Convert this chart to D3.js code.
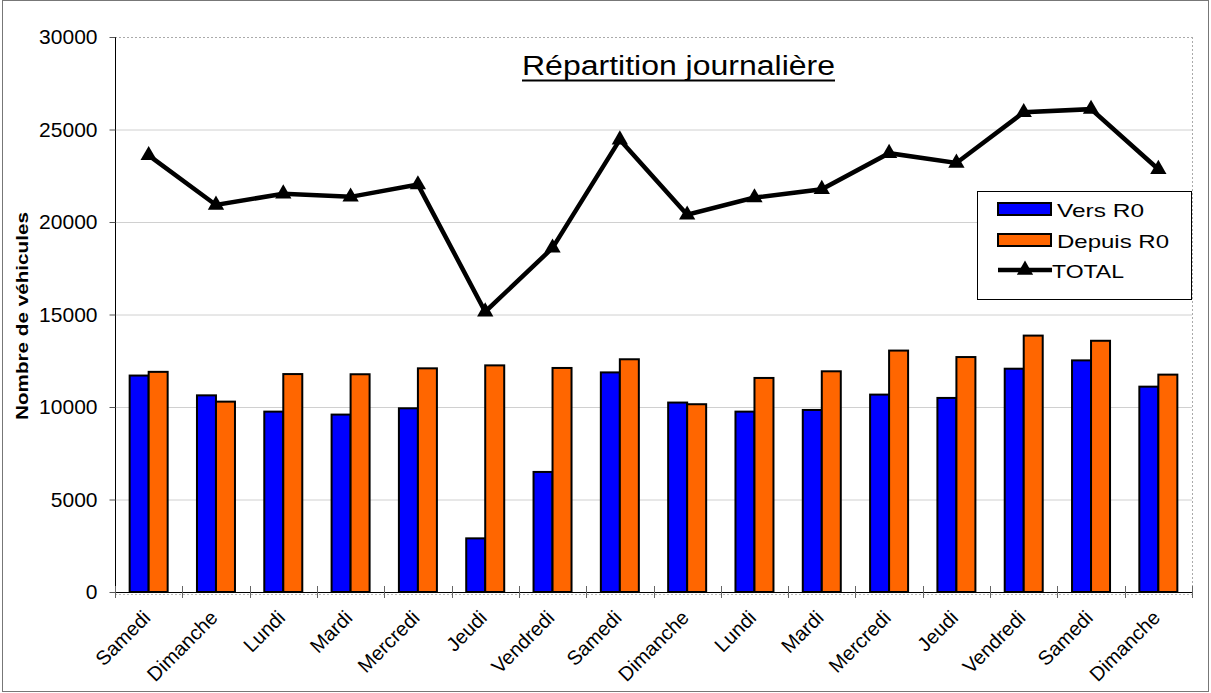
<!DOCTYPE html>
<html><head><meta charset="utf-8">
<script src="https://cdn.jsdelivr.net/npm/d3@7"></script>
<style>body{margin:0;background:#fff}svg{display:block;font-family:"Liberation Sans",Arial,sans-serif}</style>
</head><body><svg id="c" width="1211" height="693"></svg>
<script>
const categories = ["Samedi","Dimanche","Lundi","Mardi","Mercredi","Jeudi","Vendredi","Samedi","Dimanche","Lundi","Mardi","Mercredi","Jeudi","Vendredi","Samedi","Dimanche"];
const versR0 = [11700,10630,9750,9590,9930,2900,6490,11870,10240,9750,9840,10670,10490,12070,12520,11100];
const depuisR0 = [11900,10290,11780,11770,12090,12250,12110,12580,10150,11570,11930,13050,12700,13860,13580,11750];
const total = [23600,20920,21530,21360,22020,15150,18600,24450,20390,21320,21770,23720,23190,25930,26100,22850];
const yTicks = [0,5000,10000,15000,20000,25000,30000];
const seriesNames = ["Vers R0","Depuis R0","TOTAL"];

const svg = d3.select("#c");
const L=115, R=1192, T=37, B=592;
const idx = categories.map((d,i)=>i);
const x = d3.scaleBand().domain(idx).range([L,R]).padding(0);
const y = d3.scaleLinear().domain([0,30000]).range([B,T]);

// outer frame
svg.append("rect").attr("x",2.5).attr("y",0.5).attr("width",1206).attr("height",691).attr("fill","none").attr("stroke","#777").attr("stroke-width",1);

// gridlines
svg.append("g").selectAll("line").data(yTicks.filter(t=>t>0&&t<30000)).join("line")
  .attr("x1",L).attr("x2",R).attr("y1",d=>y(d)+0.5).attr("y2",d=>y(d)+0.5).attr("stroke","#d0d0d0");
// dotted plot frame top/right/bottom
svg.append("line").attr("x1",L).attr("x2",R).attr("y1",T+0.5).attr("y2",T+0.5).attr("stroke","#aaa").attr("stroke-dasharray","2,2");
svg.append("line").attr("x1",R+0.5).attr("x2",R+0.5).attr("y1",T).attr("y2",B).attr("stroke","#aaa").attr("stroke-dasharray","2,2");
svg.append("line").attr("x1",L).attr("x2",R).attr("y1",B+2.5).attr("y2",B+2.5).attr("stroke","#bbb").attr("stroke-dasharray","2,2");

// y axis
const ya = svg.append("g").attr("transform",`translate(${L+0.5},0)`).call(d3.axisLeft(y).tickValues(yTicks).tickSize(6).tickPadding(12).tickFormat(d3.format("d")));
ya.select(".domain").attr("stroke","#000").attr("d",`M0,${T}V${B}`);
ya.selectAll(".tick line").attr("stroke","#555");
ya.selectAll("text").attr("font-size",21).attr("fill","#000").attr("font-family","Liberation Sans, Arial");

// x axis
svg.append("line").attr("x1",L).attr("x2",R).attr("y1",B+0.5).attr("y2",B+0.5).attr("stroke","#000");
const bounds = idx.map(i=>x(i)).concat([R]);
svg.append("g").selectAll("line").data(bounds).join("line")
  .attr("x1",d=>Math.round(d)+0.5).attr("x2",d=>Math.round(d)+0.5).attr("y1",B-6).attr("y2",B+6).attr("stroke","#666");
svg.append("g").selectAll("text").data(idx).join("text")
  .attr("transform",i=>`translate(${x(i)+x.bandwidth()/2+3},${B+27}) rotate(-45)`)
  .attr("text-anchor","end").attr("font-size",20).attr("fill","#000").text(i=>categories[i]);

// bars
const bw = 19;
const bars = svg.append("g");
bars.selectAll(".b").data(idx).join("rect")
  .attr("x",i=>x(i)+x.bandwidth()/2-bw).attr("width",bw)
  .attr("y",i=>y(versR0[i])).attr("height",i=>B-y(versR0[i]))
  .attr("fill","#0000ff").attr("stroke","#000").attr("stroke-width",2);
bars.selectAll(".o").data(idx).join("rect")
  .attr("x",i=>x(i)+x.bandwidth()/2).attr("width",bw)
  .attr("y",i=>y(depuisR0[i])).attr("height",i=>B-y(depuisR0[i]))
  .attr("fill","#ff6600").attr("stroke","#000").attr("stroke-width",2);

// total line
const line = d3.line().x(i=>x(i)+x.bandwidth()/2).y(i=>y(total[i]));
svg.append("path").datum(idx).attr("d",line).attr("fill","none").attr("stroke","#000").attr("stroke-width",4.5).attr("stroke-linejoin","miter");
const tri = d3.symbol().type(d3.symbolTriangle).size(115);
svg.append("g").selectAll("path").data(idx).join("path")
  .attr("transform",i=>`translate(${x(i)+x.bandwidth()/2},${y(total[i])})`).attr("d",tri).attr("fill","#000");

// title
svg.append("text").attr("x",522).attr("y",75).attr("font-size",27).attr("fill","#000")
  .attr("textLength",313).attr("lengthAdjust","spacingAndGlyphs").text("Répartition journalière");
svg.append("line").attr("x1",522).attr("x2",835).attr("y1",80.5).attr("y2",80.5).attr("stroke","#000").attr("stroke-width",2);

// y label
svg.append("text").attr("transform","translate(28,316) rotate(-90)").attr("text-anchor","middle").attr("font-size",17).attr("font-weight","bold")
  .attr("textLength",208).attr("lengthAdjust","spacingAndGlyphs").text("Nombre de véhicules");

// legend
const lg = svg.append("g");
lg.append("rect").attr("x",977.5).attr("y",191.5).attr("width",214).attr("height",108).attr("fill","#fff").attr("stroke","#000");
const ly = [209,240,270];
lg.append("rect").attr("x",998).attr("y",ly[0]-6).attr("width",53).attr("height",12).attr("fill","#0000ff").attr("stroke","#000").attr("stroke-width",2);
lg.append("rect").attr("x",998).attr("y",ly[1]-6).attr("width",53).attr("height",12).attr("fill","#ff6600").attr("stroke","#000").attr("stroke-width",2);
lg.append("line").attr("x1",998).attr("x2",1052).attr("y1",ly[2]).attr("y2",ly[2]).attr("stroke","#000").attr("stroke-width",4.5);
lg.append("path").attr("transform",`translate(1025,${ly[2]})`).attr("d",tri).attr("fill","#000");
const legW = [87,112,72], legX = [1057,1057,1052];
lg.selectAll("text").data(seriesNames).join("text").attr("x",(d,i)=>legX[i]).attr("y",(d,i)=>ly[i]+7.5).attr("font-size",19)
  .attr("textLength",(d,i)=>legW[i]).attr("lengthAdjust","spacingAndGlyphs").text(d=>d);
</script></body></html>
